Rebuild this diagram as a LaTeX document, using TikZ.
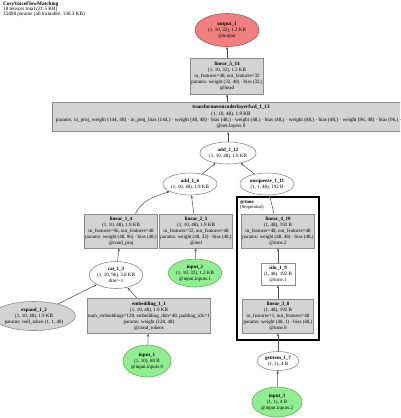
\documentclass[tikz,border=0pt]{standalone}
\usepackage{fontspec}
\setmainfont{Liberation Serif}
\usetikzlibrary{shapes.geometric,arrows.meta}
\definecolor{boxfill}{HTML}{D3D3D3}
\definecolor{boxline}{HTML}{8C8C8C}
\definecolor{outfill}{HTML}{F08080}
\definecolor{outline}{HTML}{B05858}
\definecolor{infill}{HTML}{90EE90}
\definecolor{inline}{HTML}{62B262}
\definecolor{edgec}{HTML}{505050}
\begin{document}
\begin{tikzpicture}[x=1pt,y=-1pt,
 lbl/.style={font=\fontsize{5.0}{6.1}\selectfont, align=center, inner sep=1pt, text=black},
 gbox/.style={lbl, rectangle, draw=boxline, fill=boxfill, line width=0.6pt},
 wbox/.style={lbl, rectangle, draw=boxline, fill=white, line width=0.6pt},
 oval/.style={lbl, ellipse, draw=boxline, fill=white, inner sep=0pt, line width=0.6pt},
 goval/.style={oval, fill=boxfill},
 inoval/.style={oval, draw=inline, fill=infill},
 outoval/.style={oval, draw=outline, fill=outfill},
 edge/.style={draw=edgec, line width=0.5pt, -{Stealth[length=3pt,width=2.4pt]}},
 small/.style={lbl, align=left, inner sep=0pt, font=\fontsize{5.2}{5.3}\selectfont},
 csmall/.style={lbl, align=left, inner sep=0pt, font=\fontsize{4.8}{5.2}\selectfont},
]
\useasboundingbox (0,0) rectangle (400,418);
\clip (0,0) rectangle (400,418);
\fill[white] (0,0) rectangle (400,418);

\node[small, anchor=north west] (title) at (3,1.5) {\textbf{CosyVoiceFlowMatching}\\18 tensors total (21.5 KB)\\35408 params (all trainable, 138.3 KB)};

\node[outoval, minimum width=64, minimum height=33] (out1) at (227,30) {\textbf{output\_1}\\(1, 10, 32), 1.2 KB\\@output};
\node[gbox, minimum width=71, minimum height=36] (lin514) at (227,76) {\textbf{linear\_5\_14}\\(1, 10, 32), 1.2 KB\\in\_features=48, out\_features=32\\params: weight (32, 48) · bias (32,)\\@head};
\node[gbox, minimum width=358, minimum height=28, inner sep=3pt, font=\fontsize{5.2}{6.2}\selectfont] (tr) at (231,117) {\textbf{transformerencoderlayerfwd\_1\_13}\\(1, 10, 48), 1.9 KB\\\makebox[350pt][l]{params: in\_proj\_weight (144, 48) · in\_proj\_bias (144,) · weight (48, 48) · bias (48,) · weight (48,) · bias (48,) · weight (48,) · bias (48,) · weight (96, 48) · bias (96,) · weig}\\@net.layers.0};
\node[oval, minimum width=56, minimum height=22] (a212) at (228,153) {\textbf{add\_2\_12}\\(1, 10, 48), 1.9 KB};
\node[oval, minimum width=54, minimum height=22] (a16) at (190,184) {\textbf{add\_1\_6}\\(1, 10, 48), 1.9 KB};
\node[oval, minimum width=54, minimum height=22] (unsq) at (267,184) {\textbf{unsqueeze\_1\_11}\\(1, 1, 48), 192 B};

\node[draw=black, line width=1.6pt, minimum width=82, minimum height=143, inner sep=0pt] (clu) at (278,268.5) {};
\node[csmall, anchor=north west] (clbl) at (240,199.5) {\textbf{@time}\\(Sequential)};

\node[gbox, minimum width=70, minimum height=34] (lin410) at (278,231) {\textbf{linear\_4\_10}\\(1, 48), 192 B\\in\_features=48, out\_features=48\\params: weight (48, 48) · bias (48,)\\@time.2};
\node[wbox, minimum width=34, minimum height=22] (silu) at (278,274) {\textbf{silu\_1\_9}\\(1, 48), 192 B\\@time.1};
\node[gbox, minimum width=70, minimum height=34] (lin38) at (278,316) {\textbf{linear\_3\_8}\\(1, 48), 192 B\\in\_features=1, out\_features=48\\params: weight (48, 1) · bias (48,)\\@time.0};
\node[oval, minimum width=42, minimum height=19] (get) at (278,361) {\textbf{getitem\_1\_7}\\(1, 1), 4 B};
\node[inoval, minimum width=50, minimum height=30] (in3) at (277,402) {\textbf{input\_3}\\(1, 1), 4 B\\@input.inputs.2};

\node[gbox, minimum width=70, minimum height=34] (lin14) at (121,231) {\textbf{linear\_1\_4}\\(1, 10, 48), 1.9 KB\\in\_features=96, out\_features=48\\params: weight (48, 96) · bias (48,)\\@cond\_proj};
\node[gbox, minimum width=70, minimum height=34] (lin25) at (196,231) {\textbf{linear\_2\_5}\\(1, 10, 48), 1.9 KB\\in\_features=32, out\_features=48\\params: weight (48, 32) · bias (48,)\\@mel};
\node[inoval, minimum width=50, minimum height=28] (in2) at (195,273) {\textbf{input\_2}\\(1, 10, 32), 1.2 KB\\@input.inputs.1};
\node[oval, minimum width=46, minimum height=27] (cat) at (116,275) {\textbf{cat\_1\_3}\\(1, 10, 96), 3.8 KB\\dim=-1};
\node[goval, minimum width=66, minimum height=29] (exp) at (34,316) {\textbf{expand\_1\_2}\\(1, 10, 48), 1.9 KB\\params: null\_token (1, 1, 48)};
\node[gbox, minimum width=122, minimum height=35] (emb) at (149,316) {\textbf{embedding\_1\_1}\\(1, 10, 48), 1.9 KB\\num\_embeddings=128, embedding\_dim=48, padding\_idx=1\\params: weight (128, 48)\\@cond\_tokens};
\node[inoval, minimum width=48, minimum height=32] (in1) at (147,361) {\textbf{input\_1}\\(1, 10), 80 B\\@input.inputs.0};

\draw[edge] (in1) -- (emb);
\draw[edge] (emb.124) -- (cat);
\draw[edge] (exp) -- (cat);
\draw[edge] (cat) -- (lin14);
\draw[edge] (in2) -- (lin25);
\draw[edge] (lin14.50) to[out=65,in=200] (a16);
\draw[edge] (lin25) -- (a16);
\draw[edge] (a16) -- (a212);
\draw[edge] (unsq) -- (a212);
\draw[edge] (lin410) -- (unsq);
\draw[edge] (silu) -- (lin410);
\draw[edge] (lin38) -- (silu);
\draw[edge] (get) -- (lin38);
\draw[edge] (in3) -- (get);
\draw[edge] (a212) -- (tr.south -| a212);
\draw[edge] (tr.north -| lin514) -- (lin514);
\draw[edge] (lin514) -- (out1);
\end{tikzpicture}
\end{document}
